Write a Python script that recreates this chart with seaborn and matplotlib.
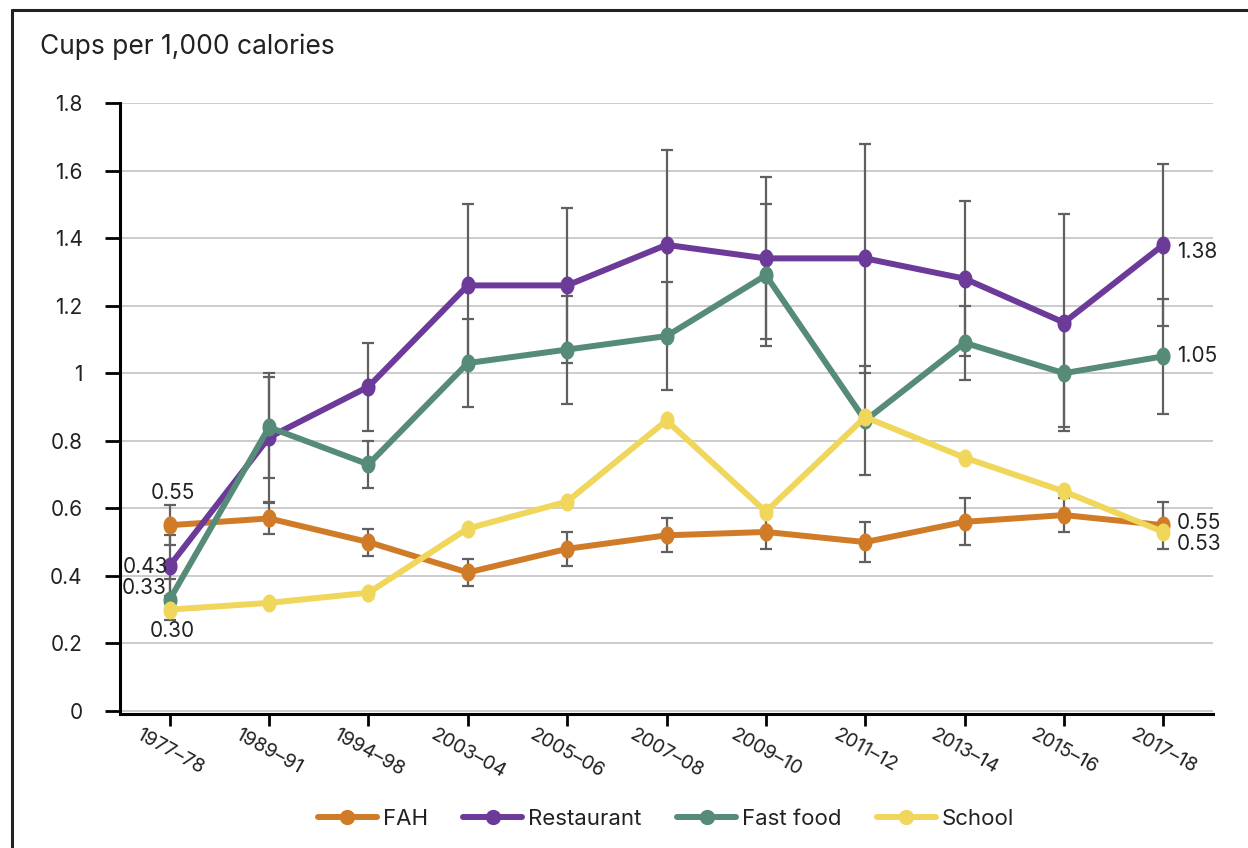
import numpy as np
import pandas as pd
import matplotlib
matplotlib.use("Agg")
import matplotlib.pyplot as plt
from matplotlib.path import Path
from matplotlib.lines import Line2D
import seaborn as sns

# Datos
periods = ["1977–78", "1989–91", "1994–98", "2003–04", "2005–06", "2007–08",
           "2009–10", "2011–12", "2013–14", "2015–16", "2017–18"]
fah = [0.55, 0.57, 0.50, 0.41, 0.48, 0.52, 0.53, 0.50, 0.56, 0.58, 0.55]
restaurant = [0.43, 0.81, 0.96, 1.26, 1.26, 1.38, 1.34, 1.34, 1.28, 1.15, 1.38]
fast_food = [0.33, 0.84, 0.73, 1.03, 1.07, 1.11, 1.29, 0.86, 1.09, 1.00, 1.05]
school = [0.30, 0.32, 0.35, 0.54, 0.62, 0.86, 0.59, 0.87, 0.75, 0.65, 0.53]

fah_err = [0.06, 0.045, 0.04, 0.04, 0.05, 0.05, 0.05, 0.06, 0.07, 0.05, 0.07]
restaurant_err = [0.09, 0.19, 0.13, 0.24, 0.23, 0.28, 0.24, 0.34, 0.23, 0.32, 0.24]
fast_food_err = [0.06, 0.15, 0.07, 0.13, 0.16, 0.16, 0.21, 0.16, 0.11, 0.16, 0.17]

series_names = ["FAH", "Restaurant", "Fast food", "School"]
colors = ["#D07B28", "#6C3A98", "#568B78", "#F0D65A"]
y_ticks = [0, 0.2, 0.4, 0.6, 0.8, 1.0, 1.2, 1.4, 1.6, 1.8]

values = {"FAH": fah, "Restaurant": restaurant, "Fast food": fast_food, "School": school}
errors = {"FAH": fah_err, "Restaurant": restaurant_err, "Fast food": fast_food_err}

df = pd.DataFrame({
    "period": periods * 4,
    "value": fah + restaurant + fast_food + school,
    "series": sum([[s] * len(periods) for s in series_names], []),
})

# Estilo
sns.set_style("white")
plt.rcParams["font.family"] = ["Inter", "DejaVu Sans"]

fig = plt.figure(figsize=(12.48, 8.48), dpi=100)
ax = fig.add_axes([120 / 1248, 1 - 714 / 848, (1213 - 120) / 1248, (714 - 103) / 848])

# marcador elíptico
t = np.linspace(0, 2 * np.pi, 50)
ellipse = Path(np.column_stack([0.78 * np.cos(t), np.sin(t)]), closed=True)

# Barras de error
for name in ["FAH", "Restaurant", "Fast food"]:
    ax.errorbar(periods, values[name], yerr=errors[name], fmt="none",
                ecolor="#606060", elinewidth=1.6, capsize=4.3, capthick=1.6, zorder=1.5)

sns.lineplot(data=df, x="period", y="value", hue="series", hue_order=series_names,
             palette=colors, marker=ellipse, markersize=13, markeredgewidth=0,
             linewidth=4.3, sort=False, errorbar=None, legend=False, ax=ax, zorder=2)

# Ejes
ax.set_xlim(-0.5, 10.5)
ax.set_ylim(-0.009, 1.8)
ax.set_yticks(y_ticks)
ax.set_yticklabels([f"{v:g}" for v in y_ticks])
ax.set_xlabel("")
ax.set_ylabel("")
ax.grid(axis="y", color="#c8c8c8", linewidth=1.3)
ax.set_axisbelow(True)
for side in ["top", "right"]:
    ax.spines[side].set_visible(False)
for side in ["left", "bottom"]:
    ax.spines[side].set_color("black")
    ax.spines[side].set_linewidth(2.2)
ax.tick_params(axis="y", length=10.8, width=2, color="black", pad=16, labelsize=15, labelcolor="#222222", left=True)
ax.tick_params(axis="x", length=8.5, width=2, color="black", pad=0, labelsize=14, labelcolor="#222222", bottom=True)
for lab in ax.get_xticklabels():
    lab.set_rotation(-29)
    lab.set_ha("center")
    lab.set_va("top")

# Etiquetas de valores
lab_kw = dict(textcoords="offset points", fontsize=15, color="#222222")
ax.annotate(f"{fah[0]:.2f}", (periods[0], fah[0]), xytext=(2, 16), ha="center", va="bottom", **lab_kw)
ax.annotate(f"{restaurant[0]:.2f}", (periods[0], restaurant[0]), xytext=(-1, -1), ha="right", va="center", **lab_kw)
ax.annotate(f"{fast_food[0]:.2f}", (periods[0], fast_food[0]), xytext=(-2, 8), ha="right", va="center", **lab_kw)
ax.annotate(f"{school[0]:.2f}", (periods[0], school[0]), xytext=(2, -8), ha="center", va="top", **lab_kw)
ax.annotate(f"{restaurant[-1]:.2f}", (periods[-1], restaurant[-1]), xytext=(10, -5), ha="left", va="center", **lab_kw)
ax.annotate(f"{fast_food[-1]:.2f}", (periods[-1], fast_food[-1]), xytext=(10, 0), ha="left", va="center", **lab_kw)
ax.annotate(f"{fah[-1]:.2f}", (periods[-1], fah[-1]), xytext=(10, 1.5), ha="left", va="center", **lab_kw)
ax.annotate(f"{school[-1]:.2f}", (periods[-1], school[-1]), xytext=(10, -8.5), ha="left", va="center", **lab_kw)

# Título
fig.text(40 / 1248, 1 - 47 / 848, "Cups per 1,000 calories", fontsize=19, color="#222222", va="center", ha="left")

# Leyenda
handles = [Line2D([], [], color=c, linewidth=4.3, marker="o", markersize=11, markeredgewidth=0,
                  solid_capstyle="round") for c in colors]
fig.legend(handles, series_names, loc="center", bbox_to_anchor=(666 / 1248, 29 / 848), ncol=4,
           frameon=False, fontsize=16, handlelength=2.65, handletextpad=0.27, columnspacing=1.6,
           numpoints=1, labelcolor="#222222")

# Marco exterior
fig.add_artist(Line2D([12 / 1248, 12 / 1248], [0, 1 - 10 / 848], transform=fig.transFigure, color="#222222", linewidth=2.2))
fig.add_artist(Line2D([12 / 1248, 1], [1 - 10 / 848, 1 - 10 / 848], transform=fig.transFigure, color="#222222", linewidth=2.2))

fig.savefig("out.png", dpi=100)
